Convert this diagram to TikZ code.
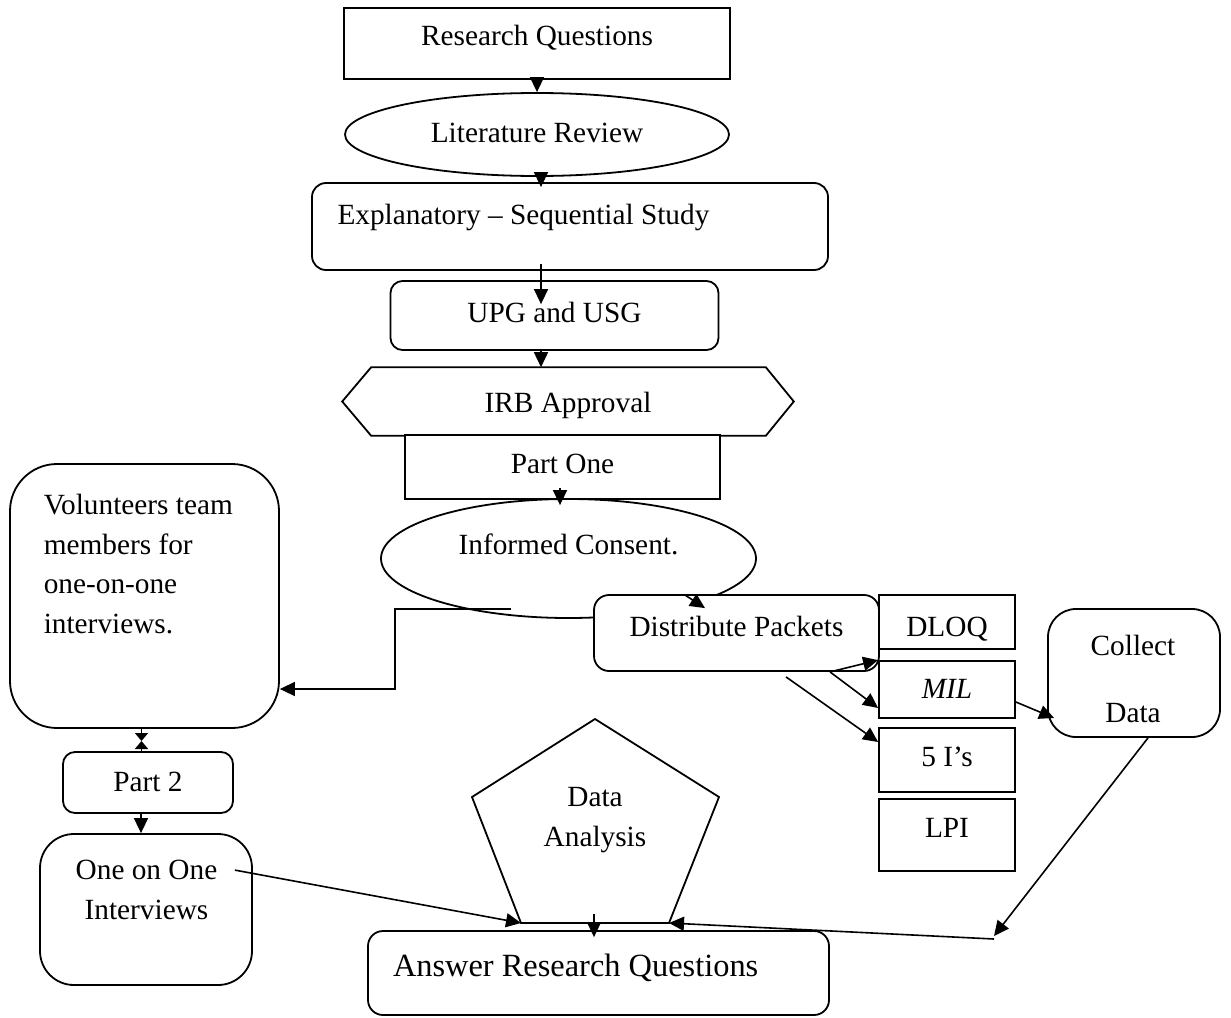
\documentclass[tikz,border=0pt]{standalone}
\usepackage{fontspec}
\setmainfont{Liberation Serif}
\usetikzlibrary{arrows.meta,calc,shapes.geometric}
\begin{document}
\begin{tikzpicture}[x=0.5pt,y=-0.5pt,
  font=\fontsize{14.65pt}{19.8pt}\selectfont,
  line width=0.8pt,
  box/.style={draw, line width=0.9pt, fill=white, inner sep=0pt},
  rbox/.style={box, rounded corners=#1},
  oval/.style={draw, line width=0.9pt, fill=white, ellipse, inner sep=0pt},
  arr/.style={-{Triangle[length=7.5pt,width=7pt]}, line width=0.8pt},
  arrs/.style={-{Triangle[length=4pt,width=6.5pt]}, line width=0.8pt},
  txt/.style={inner sep=0pt}]
\useasboundingbox (0,0) rectangle (1231,1017);

% main column
\node[box, minimum width=193pt, minimum height=35.5pt, text height=10pt, text depth=7.5pt] (rq) at (537,43.5) {Research Questions};
\node[oval, minimum width=192pt, minimum height=41.5pt, text height=10pt, text depth=2pt] (lr) at (537,134.5) {Literature Review};
\node[rbox=7pt, minimum width=258pt, minimum height=43.5pt, text height=10pt, text depth=12.5pt] (exp) at (570,226.5) {\makebox[232.5pt][l]{Explanatory – Sequential Study}};
\node[rbox=6pt, minimum width=164pt, minimum height=34.5pt, text height=10pt, text depth=3.5pt] (upg) at (554.5,315.5) {UPG and USG};
\node[txt, minimum width=225pt, minimum height=33.5pt, text height=11.5pt, text depth=1pt] (irb) at (568,401.5) {IRB Approval};
\draw[line width=0.9pt] (irb.west) -- ($(irb.north west)+(29,0)$) -- ($(irb.north east)+(-28,0)$) -- (irb.east) -- ($(irb.south east)+(-28,0)$) -- ($(irb.south west)+(29,0)$) -- cycle;
\node[box, minimum width=157.5pt, minimum height=32pt, text height=10pt, text depth=4pt] (p1) at (562.5,467) {Part One};
\node[oval, minimum width=187.5pt, minimum height=59.5pt, text height=10pt, text depth=14.5pt] (ic) at (568.5,558.5) {Informed Consent.};
\node[rbox=7.5pt, minimum width=142.5pt, minimum height=38pt, text height=10pt, text depth=7pt] (dp) at (736.5,633) {Distribute Packets};

% instruments
\node[box, minimum width=68pt, minimum height=27pt, text height=15pt, text depth=1pt] (dloq) at (947,622) {DLOQ};
\node[box, minimum width=68pt, minimum height=28.5pt, text height=10pt, text depth=1pt] (mil) at (947,689.5) {\textit{MIL}};
\node[box, minimum width=68pt, minimum height=32pt, text height=10pt, text depth=4pt] (fivei) at (947,760) {5 I’s};
\node[box, minimum width=68pt, minimum height=36pt, text height=10pt, text depth=8pt] (lpi) at (947,835) {LPI};

\node[rbox=14pt, minimum width=86pt, minimum height=64pt] (cd) at (1134,673) {};
\node[txt, align=center] (cd-t) at (1133,678.5) {Collect\\[13.7pt]Data};

% left column
\node[rbox=23.5pt, minimum width=134.5pt, minimum height=132pt] (vol) at (144.5,596) {};
\node[txt, anchor=west, align=left] (vol-t) at (43,564) {Volunteers team\\members for\\one-on-one\\interviews.};
\node[rbox=6pt, minimum width=85pt, minimum height=30.5pt, text height=10pt, text depth=1pt] (p2) at (148,782.5) {Part 2};
\node[rbox=17pt, minimum width=106pt, minimum height=75.5pt] (oo) at (146,909.5) {};
\node[txt, align=center] (oo-t) at (146.5,890) {One on One\\Interviews};

% data analysis pentagon
\coordinate (daT) at (595,719);
\coordinate (daUR) at (719,797);
\coordinate (daBR) at (669,923);
\coordinate (daBL) at (521,923);
\coordinate (daUL) at (472,797);
\draw[line width=0.9pt] (daT) -- (daUR) -- (daBR) -- (daBL) -- (daUL) -- cycle;
\node[txt, align=center] (da) at (595,820) {Data\\Analysis};

\node[rbox=7.5pt, minimum width=230.5pt, minimum height=42pt, font=\fontsize{16.2pt}{20pt}\selectfont, text height=11pt, text depth=7.2pt] (ans) at (598.5,973) {\makebox[205.5pt][l]{Answer Research Questions}};

% helper coordinates
\coordinate (icL) at ($(ic.center)+(-57.5,50.5)$);
\coordinate (icR) at ($(ic.center)+(116.5,36.5)$);
\coordinate (bend) at (395,689);
\coordinate (vp) at (141.5,741);
\coordinate (cj) at (994,936);

% connectors
\draw[arr] (rq.south) -- (lr.north);
\draw[arr] (lr.south -| 541,0) -- ($(exp.north -| 541,0)+(0,5)$);
\draw[arr] ($(exp.south -| 541,0)+(0,-7)$) -- ($(upg.north -| 541,0)+(0,24)$);
\draw[arr] (upg.south -| 541,0) -- (irb.north -| 541,0);
\draw[arr] ($(p1.south -| 560,0)+(0,-12)$) -- ($(ic.north -| 560,0)+(0,7)$);
\draw[arr] (icR) -- ($(dp.north -| 705,0)+(0,14)$);
\draw[arr] (icL) -| (bend) -- (vol.east |- bend);
\draw[arrs] (vol.south -| vp) -- (vp);
\draw[arrs] (p2.north -| vp) -- (vp);
\draw[arr] (p2.south -| 141,0) -- (oo.north -| 141,0);
\draw[arr] (dp.south -| 830,0) -- (mil.north west);
\draw[arr] (dp.south -| 830,0) -- (mil.west |- 0,708);
\draw[arr] ($(dp.south -| 786,0)+(0,5)$) -- (fivei.west |- 0,742);
\draw[arr] (mil.east |- 0,702) -- ($(cd.west)+(7,45)$);
\draw[arr] (cd.south -| 1148,0) -- (cj);
\draw[arr] ($(cj)+(0,3)$) -- (daBR);
\draw[arr] ($(oo.north east)+(-18,37)$) -- (daBL);
\draw[arr] ($(ans.north -| 594,0)+(0,-16)$) -- ($(ans.north -| 594,0)+(0,7)$);
\end{tikzpicture}
\end{document}
